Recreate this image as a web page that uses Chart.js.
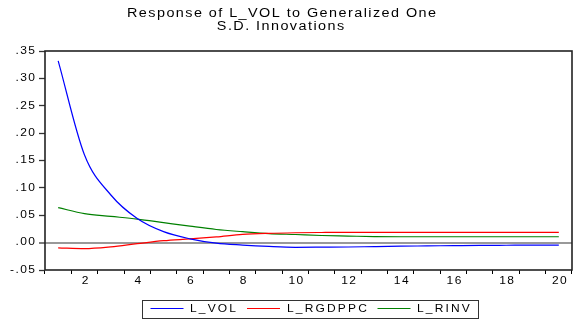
<!DOCTYPE html>
<html>
<head>
<meta charset="utf-8">
<script src="https://cdn.jsdelivr.net/npm/chart.js@4"></script>
<style>
  html, body { margin: 0; padding: 0; background: #fff; }
  #wrap { width: 574px; height: 322px; position: relative; }
</style>
</head>
<body>
<div id="wrap"><canvas id="irf" width="574" height="322"></canvas></div>
<script>
// periods and impulse responses
const periods = [1, 2, 3, 4, 5, 6, 7, 8, 9, 10, 11, 12, 13, 14, 15, 16, 17, 18, 19, 20]
const volResp = [0.332, 0.160, 0.087, 0.044, 0.020, 0.007, -0.001, -0.0045, -0.007, -0.0085,
                 -0.0083, -0.008, -0.0072, -0.0065, -0.006, -0.0055, -0.005, -0.0048, -0.0046, -0.0045]
const rgdppcResp = [-0.0095, -0.011, -0.0078, -0.002, 0.0035, 0.0068, 0.0105, 0.015, 0.017, 0.018,
                    0.0185, 0.0188, 0.0188, 0.0188, 0.0188, 0.0188, 0.0188, 0.0188, 0.0188, 0.0188]
const rinvResp = [0.064, 0.053, 0.048, 0.043, 0.0365, 0.030, 0.024, 0.020, 0.0165, 0.0148,
                  0.013, 0.012, 0.011, 0.0107, 0.0107, 0.0107, 0.0107, 0.0107, 0.0107, 0.0107]
const yTicks = [-0.05, 0.00, 0.05, 0.10, 0.15, 0.20, 0.25, 0.30, 0.35]
const xLabels = periods.map(p => (p % 2 === 0 ? String(p) : ''))

const titleLines = ['Response of L_VOL to Generalized One', 'S.D. Innovations']
const FONT = 'Arial, "Liberation Sans", sans-serif'
const SX = 1.2   // the original text is a bit stretched sideways

// formats 0.35 -> ".35", -0.05 -> "-.05"
const fmt = v => {
    const s = Math.abs(v).toFixed(2).replace(/^0/, '')
    return (v < 0 ? '-' : '') + s
}

// draws stretched text, x is the anchor given by align
const drawText = (ctx, text, x, y, size, align, spacing) => {
    ctx.save()
    ctx.font = size + 'px ' + FONT
    ctx.letterSpacing = spacing + 'px'
    const w = (ctx.measureText(text).width - spacing) * SX
    const left = align === 'center' ? x - w / 2 : align === 'right' ? x - w : x
    ctx.translate(left, y)
    ctx.scale(SX, 1)
    ctx.textAlign = 'left'
    ctx.textBaseline = 'middle'
    ctx.fillStyle = '#000'
    ctx.fillText(text, 0, 0)
    ctx.restore()
}

// title, frame, tick labels and legend box
const eviewsDecor = {
    id: 'eviewsDecor',
    afterDraw(chart) {
        const { ctx, chartArea: a, scales } = chart
        ctx.save()
        // frame
        ctx.strokeStyle = '#222'
        ctx.lineWidth = 1.6
        ctx.strokeRect(a.left, a.top, a.right - a.left, a.bottom - a.top)
        ctx.restore()

        // title
        drawText(ctx, titleLines[0], 281.5, 14, 12, 'center', 1.2)
        drawText(ctx, titleLines[1], 280.5, 27, 12, 'center', 1.2)

        // tick labels
        yTicks.forEach(v => {
            drawText(ctx, fmt(v), 35, scales.y.getPixelForValue(v), 10, 'right', 1.2)
        })
        xLabels.forEach((lab, i) => {
            if (lab) drawText(ctx, lab, scales.x.getPixelForValue(i) + 0.5, 281.5, 10, 'center', 1.2)
        })

        // legend
        ctx.save()
        ctx.strokeStyle = '#333'
        ctx.lineWidth = 1
        ctx.strokeRect(142.5, 300.5, 336, 18)
        const items = [
            { x: 150.5, tx: 190, ds: 0 },
            { x: 247, tx: 287, ds: 1 },
            { x: 377.5, tx: 417, ds: 2 },
        ]
        items.forEach(it => {
            const ds = chart.data.datasets[it.ds]
            ctx.strokeStyle = ds.borderColor
            ctx.beginPath()
            ctx.moveTo(it.x, 308.5)
            ctx.lineTo(it.x + 33, 308.5)
            ctx.stroke()
            drawText(ctx, ds.label, it.tx, 309, 10, 'left', 1.8)
        })
        ctx.restore()
    }
}

const line = (label, data, color) => ({
    label, data,
    borderColor: color,
    borderWidth: 1.2,
    pointRadius: 0,
    fill: false,
    cubicInterpolationMode: 'monotone',
})

new Chart(document.getElementById('irf'), {
    type: 'line',
    data: {
        labels: periods,
        datasets: [
            line('L_VOL', volResp, '#0000ff'),
            line('L_RGDPPC', rgdppcResp, '#ff0000'),
            line('L_RINV', rinvResp, '#008000'),
        ]
    },
    options: {
        responsive: false,
        animation: false,
        layout: { padding: { top: 51, right: 2, left: 0, bottom: 0 } },
        plugins: { legend: { display: false }, title: { display: false }, tooltip: { enabled: false } },
        scales: {
            x: {
                type: 'category',
                offset: true,
                afterFit: s => { s.height = 52 },
                border: { display: false },
                grid: { offset: true, drawOnChartArea: false, tickLength: 4, tickColor: '#000', tickWidth: 1 },
                ticks: { display: false, autoSkip: false, maxRotation: 0 }
            },
            y: {
                min: yTicks[0],
                max: yTicks[yTicks.length - 1],
                afterFit: s => { s.width = 45 },
                afterBuildTicks: s => { s.ticks = yTicks.map(v => ({ value: v })) },
                border: { display: false },
                grid: {
                    drawOnChartArea: true,
                    tickLength: 6,
                    tickColor: '#333',
                    tickWidth: 1.3,
                    color: c => (c.tick && Math.abs(c.tick.value) < 1e-9 ? '#999' : 'rgba(0,0,0,0)'),
                    lineWidth: c => (c.tick && Math.abs(c.tick.value) < 1e-9 ? 2 : 1)
                },
                ticks: { display: false }
            }
        }
    },
    plugins: [eviewsDecor]
})
</script>
</body>
</html>
